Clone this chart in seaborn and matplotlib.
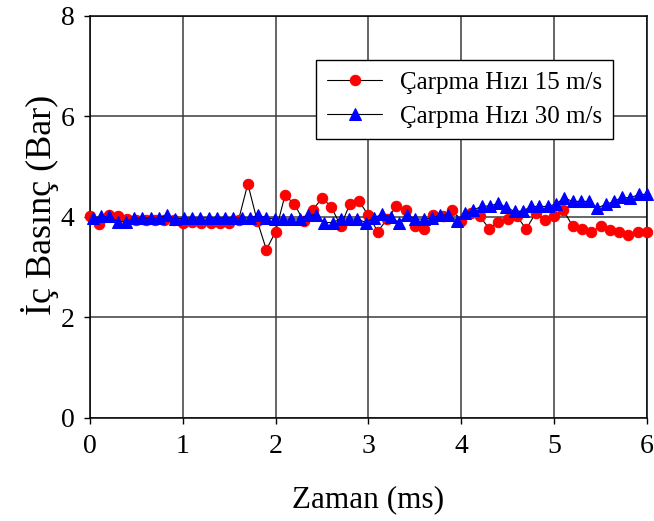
import matplotlib
matplotlib.use("Agg")
import matplotlib.pyplot as plt
import numpy as np
import pandas as pd
import seaborn as sns

# Internal pressure vs. time for two impact speeds
red_label = "Çarpma Hızı 15 m/s"
blue_label = "Çarpma Hızı 30 m/s"

red_time = np.round(np.arange(61) * 0.1, 2)
red_pressure = [
    4.01, 3.87, 4.03, 4.02, 3.96, 3.94, 3.95, 3.94, 3.95, 3.94,
    3.88, 3.91, 3.88, 3.88, 3.88, 3.88, 3.94, 4.66, 3.93, 3.35,
    3.71, 4.43, 4.26, 3.93, 4.14, 4.38, 4.20, 3.82, 4.26, 4.31,
    4.03, 3.71, 3.96, 4.21, 4.13, 3.82, 3.76, 4.03, 4.01, 4.13,
    3.93, 4.08, 4.01, 3.77, 3.90, 3.96, 4.01, 3.76, 4.08, 3.94,
    4.01, 4.13, 3.82, 3.77, 3.70, 3.82, 3.75, 3.71, 3.64, 3.71,
    3.70,
]

blue_time = np.round(np.linspace(0.03, 6.0, 68), 3)
blue_pressure = [
    3.98, 4.01, 4.01, 3.91, 3.91, 3.98, 3.98, 3.98, 3.98, 4.04,
    3.96, 3.98, 3.98, 3.98, 3.98, 3.98, 3.98, 3.98, 3.98, 3.98,
    4.04, 3.98,
    3.96, 3.96, 3.96, 3.96, 4.04, 4.04, 3.89, 3.89, 3.96, 3.96,
    3.96, 3.89, 3.98, 4.06, 4.00, 3.89, 4.04, 3.96, 3.96, 3.98,
    4.04, 4.04,
    3.93, 4.07, 4.14, 4.21, 4.22, 4.27, 4.19, 4.11, 4.12, 4.21,
    4.21, 4.21, 4.26, 4.38, 4.31, 4.31, 4.31, 4.18, 4.25, 4.31,
    4.39, 4.38, 4.45, 4.45,
]

x_ticks = [0, 1, 2, 3, 4, 5, 6]
y_ticks = [0, 2, 4, 6, 8]

sns.set_theme(style="white")
plt.rcParams["font.family"] = ["Liberation Serif", "DejaVu Serif"]
plt.rcParams["text.color"] = "black"
plt.rcParams["axes.labelcolor"] = "black"
plt.rcParams["xtick.color"] = "black"
plt.rcParams["ytick.color"] = "black"

fig = plt.figure(figsize=(6.54, 5.21), dpi=100)
ax = fig.add_axes([0.1376, 0.1977, 0.8517, 0.7716])

red_df = pd.DataFrame({"t": red_time, "p": red_pressure})
blue_df = pd.DataFrame({"t": blue_time, "p": blue_pressure})

sns.lineplot(data=red_df, x="t", y="p", ax=ax, color="black", linewidth=0.8,
             marker="o", markersize=7.5, markerfacecolor="#ff0000",
             markeredgecolor="#ff0000", label=red_label, clip_on=False,
             zorder=3)
sns.lineplot(data=blue_df, x="t", y="p", ax=ax, color="black", linewidth=0.8,
             marker="^", markersize=8.5, markerfacecolor="#0000ff",
             markeredgecolor="#0000ff", label=blue_label, clip_on=False,
             zorder=4)

ax.set_xlim(0, 6)
ax.set_ylim(0, 8)
ax.set_xticks(x_ticks)
ax.set_yticks(y_ticks)
ax.grid(True, color="#3c3c3c", linewidth=1.1)
ax.set_axisbelow(True)
for s in ax.spines.values():
    s.set_visible(True)
    s.set_color("black")
    s.set_linewidth(1.1)
ax.tick_params(direction="out", length=4.3, width=1, color="black",
               labelcolor="black", labelsize=20, pad=7, bottom=True, left=True)

ax.set_xlabel("Zaman (ms)", fontsize=22.5, labelpad=19, color="black")
ax.set_ylabel("İç Basınç (Bar)", fontsize=26, color="black")
ax.yaxis.set_label_coords(-0.055, 0.53)

leg = ax.legend(loc="upper right", bbox_to_anchor=(0.939, 0.8905),
                borderaxespad=0, fontsize=18, frameon=True, fancybox=False,
                framealpha=1, edgecolor="black", handlelength=2.2,
                borderpad=0.45, labelspacing=0.45, handletextpad=0.7)
leg.get_frame().set_linewidth(1.0)
for txt in leg.get_texts():
    txt.set_color("black")

fig.savefig("out.png", dpi=100, facecolor="white")
